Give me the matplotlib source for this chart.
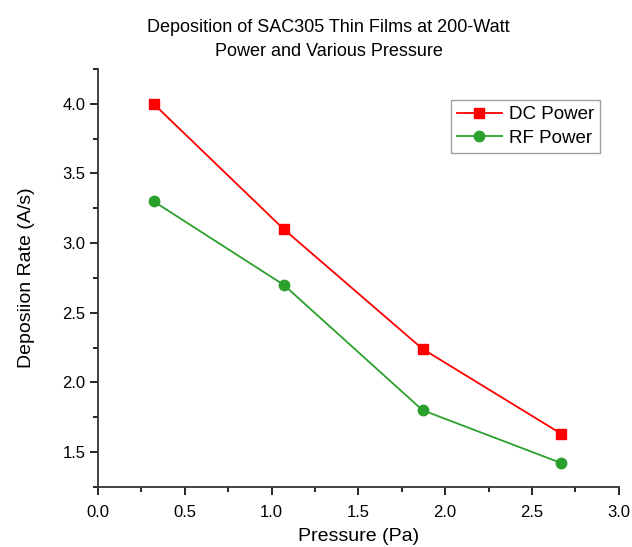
import numpy as np
import matplotlib.pyplot as plt
from matplotlib.ticker import MultipleLocator

plt.rcParams["font.family"] = ["Liberation Sans", "DejaVu Sans"]

pressure = [0.32, 1.07, 1.87, 2.67]
dc_rate = [4.0, 3.1, 2.24, 1.63]
rf_rate = [3.3, 2.7, 1.8, 1.42]

fig = plt.figure(figsize=(6.32, 5.47), dpi=100)
ax = fig.add_axes([0.155, 0.110, 0.824, 0.764])

ax.plot(pressure, dc_rate, color="#ff0000", marker="s", markersize=7, lw=1.3, label="DC Power")
ax.plot(pressure, rf_rate, color="#2ca02c", marker="o", markersize=7.5, lw=1.3, label="RF Power")

ax.set_xlim(0, 3.0)
ax.set_ylim(1.25, 4.25)
ax.xaxis.set_major_locator(MultipleLocator(0.5))
ax.xaxis.set_minor_locator(MultipleLocator(0.25))
ax.yaxis.set_major_locator(MultipleLocator(0.5))
ax.yaxis.set_minor_locator(MultipleLocator(0.25))
ax.spines["top"].set_visible(False)
ax.spines["right"].set_visible(False)
for s in ["left", "bottom"]:
    ax.spines[s].set_linewidth(1.3)
    ax.spines[s].set_color("#333333")
ax.tick_params(which="major", direction="out", length=6, width=1.2, labelsize=12)
ax.tick_params(axis="y", which="major", pad=3)
ax.tick_params(axis="x", which="major", pad=7)
ax.tick_params(which="minor", direction="out", length=3.5, width=1.2)

ax.set_xlabel("Pressure (Pa)", fontsize=14, labelpad=6)
ax.set_ylabel("Deposiion Rate (A/s)", fontsize=14, labelpad=20)

fig.text(0.52, 0.966, "Deposition of SAC305 Thin Films at 200-Watt\nPower and Various Pressure",
         ha="center", va="top", fontsize=13, linespacing=1.6)

leg = ax.legend(loc="upper right", bbox_to_anchor=(0.982, 0.947), fontsize=13.5,
                frameon=True, fancybox=False, edgecolor="#888888",
                handlelength=2.4, borderpad=0.3, labelspacing=0.35, handletextpad=0.4)
leg.get_frame().set_linewidth(1.0)

fig.savefig("out.png", dpi=100)
